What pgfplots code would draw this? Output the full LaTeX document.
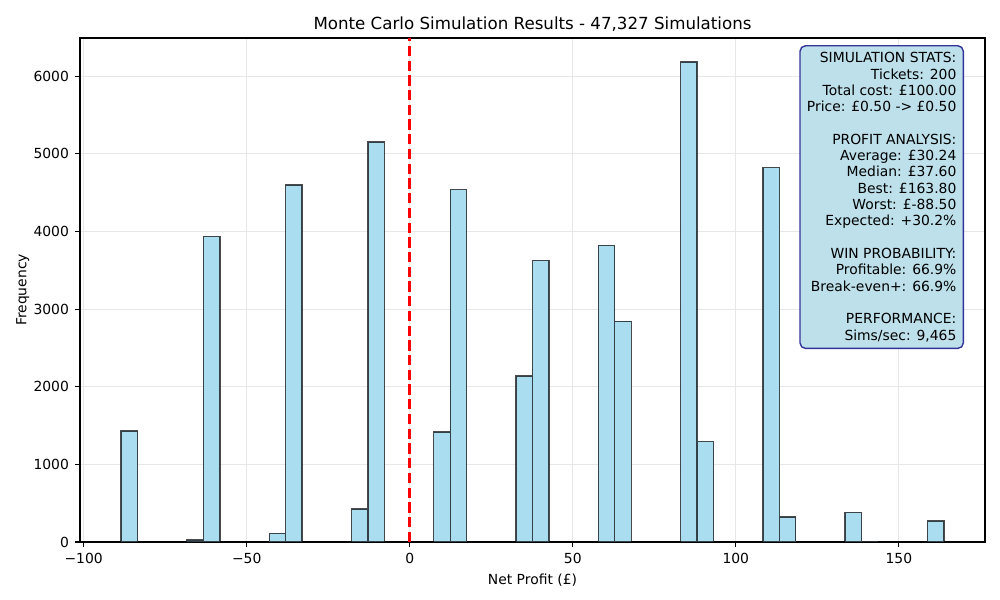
\documentclass[border=0pt]{standalone}
\usepackage{pgfplots}
\pgfplotsset{compat=1.18}
\usepackage{fontspec}
\setmainfont{DejaVu Sans}
\definecolor{barfill}{RGB}{171,221,241}
\definecolor{boxfill}{RGB}{189,224,235}
\definecolor{boxedge}{RGB}{51,51,153}
\definecolor{gridc}{RGB}{231,231,231}
\pgfplotstableread{
x y
-85.977 1428
-65.793 25
-60.747 3936
-40.563 112
-35.517 4600
-15.333 425
-10.287 5152
9.897 1415
14.943 4540
35.127 2138
40.173 3628
60.357 3820
65.403 2844
85.587 6183
90.633 1294
110.817 4822
115.863 323
136.047 383
141.093 8
161.277 268
}\bins
\begin{document}
\begin{tikzpicture}
\useasboundingbox (-57.6bp,-41.76bp) rectangle (662.4bp,390.24bp);
\begin{axis}[
  at={(0,0)}, anchor=south west,
  scale only axis, width=651.6bp, height=362.88bp,
  xmin=-101.115, xmax=176.415, ymin=0, ymax=6492,
  axis line style={line width=0.8bp},
  grid=major, major grid style={gridc, line width=0.8bp},
  tick align=outside, major tick length=3.5bp,
  tick style={line width=0.8bp, black},
  xtick pos=bottom, ytick pos=left,
  xtick={-100,-50,0,50,100,150},
  xticklabels={−100,−50,0,50,100,150},
  ytick={0,1000,2000,3000,4000,5000,6000},
  yticklabels={0,1000,2000,3000,4000,5000,6000},
  tick label style={font=\fontsize{10bp}{12bp}\selectfont},
  xticklabel style={yshift=-1bp},
  yticklabel style={xshift=-1bp},
]
\addplot[ybar, bar width=5.046, bar shift=0pt, fill=barfill, draw=black, draw opacity=0.7, line width=1bp] table[x=x,y=y] {\bins};
\addplot[red, line width=2bp, dash pattern=on 7.4bp off 3.2bp] coordinates {(0,0) (0,6492)};
\end{axis}
\node[anchor=base, font=\fontsize{12bp}{14bp}\selectfont] at (325.8bp,368.8bp) {Monte Carlo Simulation Results - 47,327 Simulations};
\node[anchor=base, font=\fontsize{10bp}{12bp}\selectfont] at (325.8bp,-30.5bp) {Net Profit (£)};
\node[anchor=center, rotate=90, font=\fontsize{10bp}{12bp}\selectfont] at (-41.2bp,181.44bp) {Frequency};
\node[anchor=north east, align=right, fill=boxfill, draw=boxedge, line width=1bp, rounded corners=4bp, inner xsep=5bp, inner ysep=4.8bp, font=\fontsize{10bp}{11.75bp}\selectfont] at (636.5bp,357.8bp) {SIMULATION STATS:\\Tickets: 200\\Total cost: £100.00\\Price: £0.50 -> £0.50\\\mbox{}\\PROFIT ANALYSIS:\\Average: £30.24\\Median: £37.60\\Best: £163.80\\Worst: £-88.50\\Expected: +30.2\%\\\mbox{}\\WIN PROBABILITY:\\Profitable: 66.9\%\\Break-even+: 66.9\%\\\mbox{}\\PERFORMANCE:\\Sims/sec: 9,465};
\end{tikzpicture}
\end{document}
